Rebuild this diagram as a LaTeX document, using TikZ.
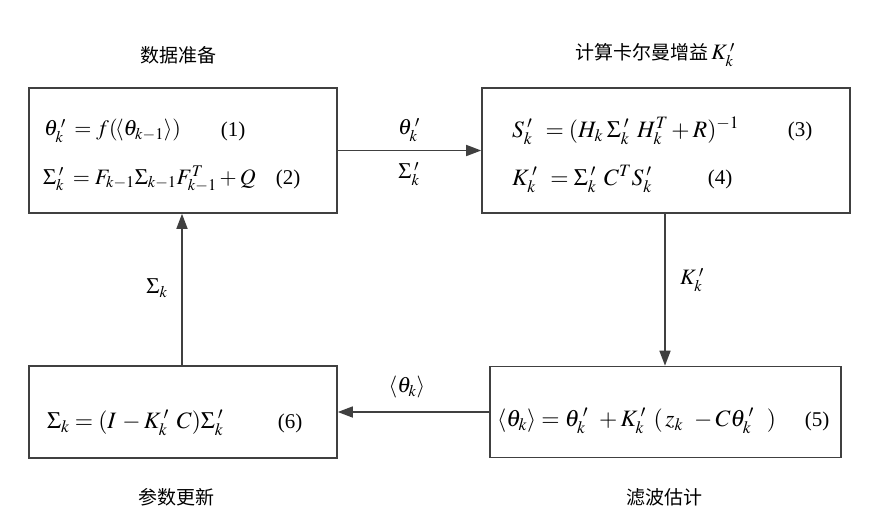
\documentclass[tikz,border=0pt]{standalone}
\usepackage{mathptmx}
\usepackage[no-math]{fontspec}
\setmainfont{Liberation Serif}
\newfontfamily\cjk{Noto Sans CJK SC}
\usetikzlibrary{arrows.meta}
\definecolor{linegray}{HTML}{404040}
\newcommand{\pk}{_{k}^{\mkern3mu\prime}\mkern6mu}
\newcommand{\pks}{_{k}^{\mkern3mu\prime}\mkern3mu}
\newcommand{\pkl}{_{k}^{\mkern3mu\prime}}
\tikzset{
  box/.style={draw=linegray, line width=1.6pt, rectangle, inner sep=0pt},
  flow/.style={draw=linegray, line width=1.6pt, -{Triangle[length=15pt,width=11pt]}},
  eq/.style={anchor=west, inner sep=0pt, font=\fontsize{22}{26}\selectfont},
  eqb/.style={anchor=west, inner sep=0pt, font=\fontsize{23.5}{27}\selectfont},
  num/.style={inner sep=0pt, font=\fontsize{21}{24}\selectfont},
  lab/.style={inner sep=0pt, font=\fontsize{22}{26}\selectfont},
  title/.style={inner sep=0pt, font=\fontsize{19}{22}\selectfont\cjk}
}
\begin{document}
\begin{tikzpicture}[x=1pt,y=-1pt]
\useasboundingbox (0,0) rectangle (874,523);
% boxes
\node[box, minimum width=308pt, minimum height=125pt] (b1) at (183,150.5) {};
\node[box, minimum width=368pt, minimum height=125pt] (b2) at (666,150.5) {};
\node[box, minimum width=308pt, minimum height=92pt] (b3) at (183,412) {};
\node[box, minimum width=351pt, minimum height=91pt] (b4) at (665.5,412) {};
% titles
\node[title, anchor=west] (t1) at (140,55) {数据准备};
\node[title, anchor=west] (t2) at (575,55) {计算卡尔曼增益\,{\fontsize{22}{26}\selectfont$K\pkl$}};
\node[title, anchor=west] (t3) at (138,497) {参数更新};
\node[title, anchor=west] (t4) at (626,497) {滤波估计};
% box 1
\node[eq] (e1) at (44,131) {$\theta\pks=f(\mkern-2mu\langle\theta_{k-1}\rangle)$};
\node[num] (n1) at (233,131) {(1)};
\node[eq] (e2) at (43,179) {$\Sigma\pks=F_{k-1}\Sigma_{k-1}F_{k-1}^{T}+Q$};
\node[num] (n2) at (288,179) {(2)};
% box 2
\node[eqb] (e3) at (512,131) {$S\pk=(H_k\mkern3mu\Sigma\pk H_k^{T}+R)^{-1}$};
\node[num] (n3) at (800,131) {(3)};
\node[eqb] (e4) at (512,179) {$K\pk=\Sigma\pk C^{T}S\pkl$};
\node[num] (n4) at (720,179) {(4)};
% box 3
\node[eqb] (e6) at (47,423) {$\Sigma_k=(I\mkern2mu-K\pk C)\Sigma\pkl$};
\node[num] (n6) at (290,423) {(6)};
% box 4
\node[eqb] (e5) at (497,421) {$\langle\theta_k\rangle=\theta\pk+K\pk(\mkern2mu z_k\mkern6mu-C\theta\pk\mkern4mu)$};
\node[num] (n5) at (817,421) {(5)};
% connectors
\draw[flow] (b1.east) -- (b2.west);
\draw[flow] (b2.south -| 665,0) -- (b4.north -| 665,0);
\draw[flow] (b4.west) -- (b3.east);
\draw[flow] (b3.north -| 182,0) -- (b1.south -| 182,0);
% connector labels
\node[lab] (l1) at (409,130) {$\theta\pkl$};
\node[lab] (l2) at (409,174) {$\Sigma\pkl$};
\node[lab] (l3) at (692,280) {$K\pkl$};
\node[lab] (l4) at (157,288) {$\Sigma_k$};
\node[lab] (l5) at (407,387) {$\langle\theta_k\rangle$};
\end{tikzpicture}
\end{document}
